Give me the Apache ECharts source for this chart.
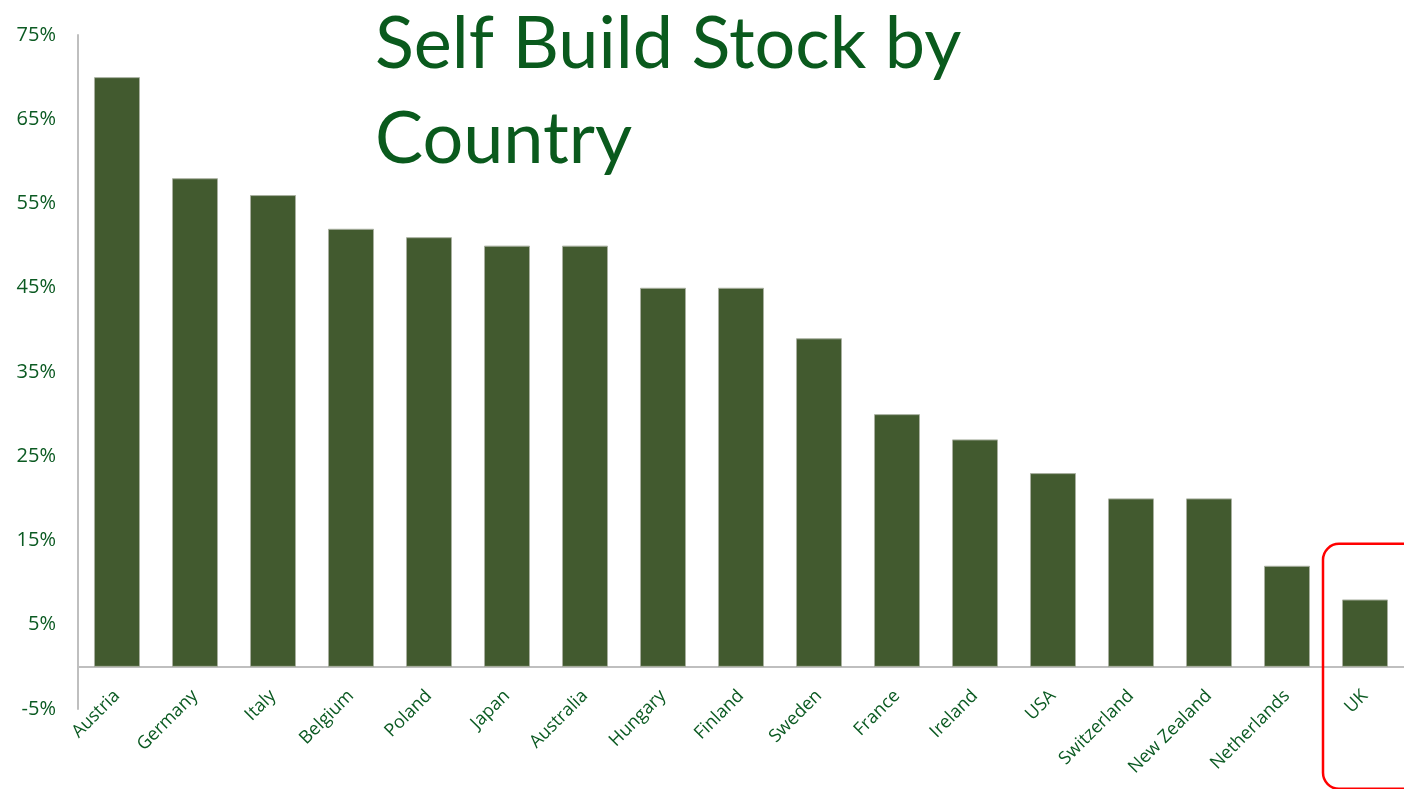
<!DOCTYPE html>
<html>
<head>
<meta charset="utf-8">
<script src="https://cdn.jsdelivr.net/npm/echarts@6/dist/echarts.min.js"></script>
<style>
html,body{margin:0;padding:0;background:#fff;}
#chart{width:1404px;height:789px;}
</style>
</head>
<body>
<div id="chart"></div>
<script>
const countries = ["Austria","Germany","Italy","Belgium","Poland","Japan","Australia","Hungary","Finland","Sweden","France","Ireland","USA","Switzerland","New Zealand","Netherlands","UK"];
const selfBuildShare = [70,58,56,52,51,50,50,45,45,39,30,27,23,20,20,12,8];
const yTicks = {min:-5, max:75, interval:10};
const titleText = "Self Build Stock by\nCountry";

const green = '#0b5a22';
const chart = echarts.init(document.getElementById('chart'));
chart.setOption({
  animation:false,
  backgroundColor:'#fff',
  title:{
    text:titleText,
    left:370, top:-8,
    textStyle:{fontFamily:'Lato', fontWeight:'normal', fontSize:72, lineHeight:95, color:'#0a5a1d'}
  },
  grid:{left:78, right:0, top:35, bottom:80, containLabel:false, outerBoundsMode:'none'},
  xAxis:{
    type:'category',
    data:countries,
    axisLine:{show:true, onZero:true, lineStyle:{color:'#bfbfbf', width:2}},
    axisTick:{show:false},
    axisLabel:{interval:0, rotate:45, margin:-16, color:green, fontSize:18, fontFamily:'Open Sans', hideOverlap:false}
  },
  yAxis:{
    type:'value',
    min:yTicks.min, max:yTicks.max, interval:yTicks.interval,
    axisLine:{show:true, lineStyle:{color:'#bfbfbf', width:2}},
    axisTick:{show:false},
    splitLine:{show:false},
    axisLabel:{formatter:'{value}%', color:green, fontSize:20, margin:22, fontFamily:'Open Sans'}
  },
  series:[{
    type:'bar',
    data:selfBuildShare,
    barCategoryGap:'41%',
    itemStyle:{color:'#425a2f', borderColor:'#a9b0a0', borderWidth:1}
  }]
});

const lastIdx = countries.length - 1;
const p = chart.convertToPixel({xAxisIndex:0, yAxisIndex:0}, [lastIdx, 14.6]);
chart.setOption({
  graphic:[{
    type:'rect',
    shape:{x:p[0]-42, y:p[1], width:130, height:245, r:16},
    style:{fill:'none', stroke:'#ff0000', lineWidth:2.5},
    z:100
  }]
});
</script>
</body>
</html>
